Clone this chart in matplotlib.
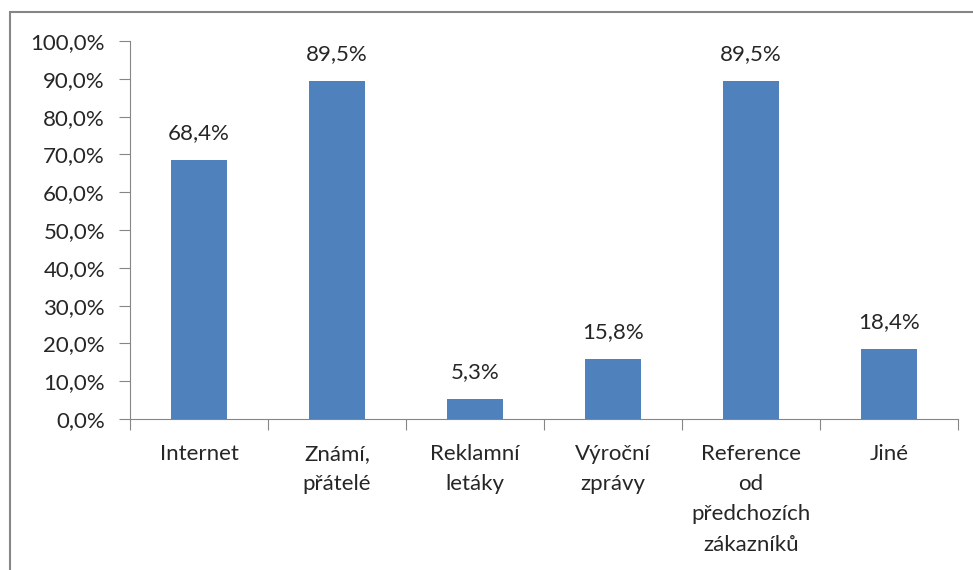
import matplotlib.pyplot as plt
import matplotlib.patches as mpatches
import numpy as np

plt.rcParams['font.family'] = ['Lato', 'DejaVu Sans']

categories = ["Internet", "Známí,\npřátelé", "Reklamní\nletáky", "Výroční\nzprávy",
              "Reference\nod\npředchozích\nzákazníků", "Jiné"]
values = [68.4, 89.5, 5.3, 15.8, 89.5, 18.4]
yticks = np.arange(0, 101, 10)

W, H = 973, 570
fig = plt.figure(figsize=(W / 100, H / 100), dpi=100)
ax = fig.add_axes([130 / W, 1 - 419 / H, 828 / W, 378 / H])

# outer chart frame
fig.patches.append(mpatches.Rectangle((10 / W, -0.1), 1.2, 1 - 12 / H + 0.1,
                                      transform=fig.transFigure, fill=False,
                                      edgecolor="#868686", linewidth=1.5))

x = np.arange(len(categories))
ax.bar(x, values, width=0.4, color="#4F81BD")
for xi, v in zip(x, values):
    ax.text(xi, v + 4.5, f"{v:.1f}%".replace(".", ","), ha="center", va="bottom",
            fontsize=16, color="#262626")

ax.set_xlim(-0.5, len(categories) - 0.5)
ax.set_ylim(0, 100)
ax.set_yticks(yticks)
ax.set_yticklabels([f"{t:.1f}%".replace(".", ",") for t in yticks], fontsize=16, color="#262626")

ax.set_xticks(np.arange(-0.5, len(categories), 1))
ax.set_xticklabels([])
ax.set_xticks(x, minor=True)
ax.set_xticklabels(categories, minor=True, fontsize=16, color="#262626", linespacing=1.64)
ax.tick_params(axis="x", which="minor", length=0, pad=18)
ax.tick_params(axis="x", which="major", length=8, color="#868686")
ax.tick_params(axis="y", length=8, color="#868686", pad=10)

for s in ["top", "right"]:
    ax.spines[s].set_visible(False)
for s in ["left", "bottom"]:
    ax.spines[s].set_color("#868686")

fig.savefig("out.png", dpi=100)
